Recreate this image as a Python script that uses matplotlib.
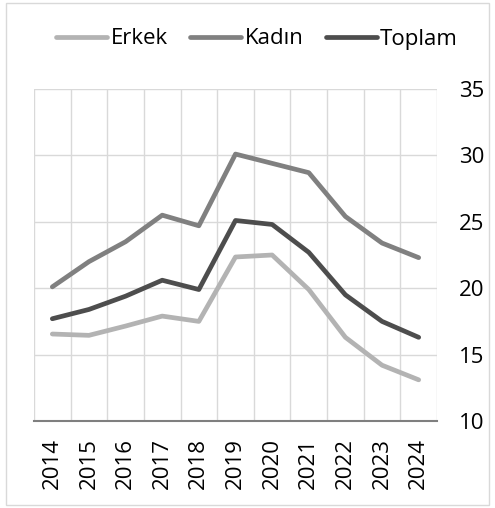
import matplotlib.pyplot as plt
from matplotlib.patches import Rectangle
import numpy as np

plt.rcParams['font.family'] = ['Open Sans', 'DejaVu Sans']

years = ['2014', '2015', '2016', '2017', '2018', '2019', '2020', '2021', '2022', '2023', '2024']
erkek = [16.55, 16.45, 17.15, 17.9, 17.5, 22.35, 22.5, 19.9, 16.3, 14.2, 13.1]
kadin = [20.1, 22.0, 23.5, 25.5, 24.7, 30.1, 29.4, 28.7, 25.4, 23.4, 22.3]
toplam = [17.7, 18.4, 19.4, 20.6, 19.9, 25.1, 24.8, 22.7, 19.5, 17.5, 16.3]

fig = plt.figure(figsize=(4.95, 5.08), dpi=100)
ax = fig.add_axes([34 / 495, 1 - 421 / 508, (437 - 34) / 495, (421 - 89) / 508])

x = np.arange(len(years))
lw = 3.4
ax.plot(x, erkek, color='#b3b3b3', lw=lw, label='Erkek', solid_capstyle='round', solid_joinstyle='round')
ax.plot(x, kadin, color='#808080', lw=lw, label='Kadın', solid_capstyle='round', solid_joinstyle='round')
ax.plot(x, toplam, color='#4d4d4d', lw=lw, label='Toplam', solid_capstyle='round', solid_joinstyle='round')

ax.set_xlim(-0.5, len(years) - 0.5)
ax.set_ylim(10, 35)
ax.set_yticks([10, 15, 20, 25, 30, 35])
ax.yaxis.tick_right()
ax.set_xticks(x)
ax.set_xticklabels(years, rotation=90)
ax.set_xticks(np.arange(-0.5, len(years)), minor=True)
ax.tick_params(axis='both', which='both', length=0, labelsize=16, colors='#000000')
ax.tick_params(axis='x', pad=12)
ax.tick_params(axis='y', pad=16)
ax.grid(axis='y', color='#d9d9d9', lw=1)
ax.grid(axis='x', which='minor', color='#d9d9d9', lw=1)
for s in ['top', 'left', 'right']:
    ax.spines[s].set_visible(False)
ax.spines['bottom'].set_color('#7f7f7f')
ax.spines['bottom'].set_linewidth(1.5)

leg = fig.legend(loc='center', bbox_to_anchor=(257 / 495, 1 - 39 / 508), ncol=3, frameon=False,
                 fontsize=16, handlelength=2.3, handletextpad=0.15, columnspacing=1.0)

fig.patches.append(Rectangle((6 / 495, 3 / 508), 483 / 495, 502 / 508, transform=fig.transFigure,
                             fill=False, edgecolor='#d9d9d9', lw=1))

fig.savefig('out.png', dpi=100)
